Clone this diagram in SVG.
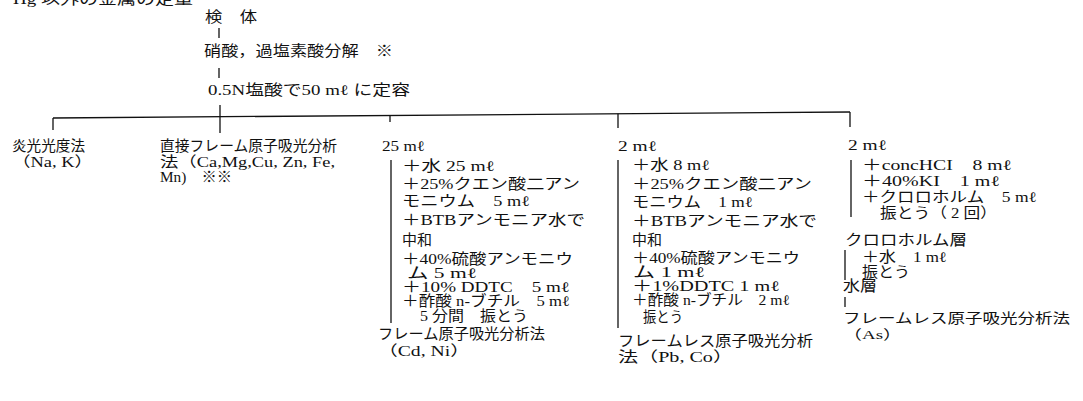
<svg xmlns="http://www.w3.org/2000/svg" width="1083" height="401" viewBox="0 0 1083 401">
<style>
text{font-family:"Liberation Serif","Noto Sans CJK JP",serif;font-size:14.5px;fill:#111}
line{stroke:#111;stroke-width:1.3;fill:none}
.s{font-size:13.5px}
</style>
<rect width="1083" height="401" fill="#fff"/>
<g id="title"><text x="13" y="4" textLength="180" lengthAdjust="spacingAndGlyphs">Hg 以外の金属の定量</text></g>
<g id="sample"><text x="205" y="22" textLength="52" lengthAdjust="spacingAndGlyphs">検　体</text></g>
<g id="digest"><text x="204" y="56" textLength="189" lengthAdjust="spacingAndGlyphs">硝酸，過塩素酸分解　※</text></g>
<g id="dilute"><text x="208" y="95" textLength="202" lengthAdjust="spacingAndGlyphs">0.5N塩酸で50 mℓ に定容</text></g>
<g id="flame-photometry">
<text x="12" y="151" textLength="73" lengthAdjust="spacingAndGlyphs">炎光光度法</text>
<text x="12" y="167" textLength="81" lengthAdjust="spacingAndGlyphs">（Na, K）</text>
</g>
<g id="direct-aas">
<text x="160" y="151" textLength="177" lengthAdjust="spacingAndGlyphs">直接フレーム原子吸光分析</text>
<text x="160" y="167" textLength="175" lengthAdjust="spacingAndGlyphs">法（Ca,Mg,Cu, Zn, Fe,</text>
<text x="160" y="182" textLength="72" lengthAdjust="spacingAndGlyphs">Mn)　※※</text>
</g>
<g id="cd-ni">
<text x="382" y="151" textLength="43" lengthAdjust="spacingAndGlyphs">25 mℓ</text>
<text x="402" y="171" textLength="93" lengthAdjust="spacingAndGlyphs">＋水 25 mℓ</text>
<text x="402" y="189" textLength="178" lengthAdjust="spacingAndGlyphs">＋25%クエン酸二アン</text>
<text x="402" y="206" textLength="128" lengthAdjust="spacingAndGlyphs">モニウム　5 mℓ</text>
<text x="402" y="225" textLength="183" lengthAdjust="spacingAndGlyphs">＋BTBアンモニア水で</text>
<text x="402" y="245" textLength="30" lengthAdjust="spacingAndGlyphs">中和</text>
<text x="402" y="264" textLength="171" lengthAdjust="spacingAndGlyphs">＋40%硫酸アンモニウ</text>
<text x="407" y="278" textLength="70" lengthAdjust="spacingAndGlyphs">ム 5 mℓ</text>
<text x="402" y="292" textLength="168" lengthAdjust="spacingAndGlyphs">＋10% DDTC　5 mℓ</text>
<text x="402" y="306" textLength="168" lengthAdjust="spacingAndGlyphs">＋酢酸 n-ブチル　5 mℓ</text>
<text x="420" y="321" textLength="108" lengthAdjust="spacingAndGlyphs">5 分間　振とう</text>
<text x="378" y="339" textLength="167" lengthAdjust="spacingAndGlyphs">フレーム原子吸光分析法</text>
<text x="378" y="356" textLength="92" lengthAdjust="spacingAndGlyphs">（Cd, Ni）</text>
</g>
<g id="pb-co">
<text x="618" y="151" textLength="39" lengthAdjust="spacingAndGlyphs">2 mℓ</text>
<text x="632" y="170" textLength="78" lengthAdjust="spacingAndGlyphs">＋水 8 mℓ</text>
<text x="632" y="189" textLength="180" lengthAdjust="spacingAndGlyphs">＋25%クエン酸二アン</text>
<text x="632" y="207" textLength="121" lengthAdjust="spacingAndGlyphs">モニウム　1 mℓ</text>
<text x="632" y="226" textLength="185" lengthAdjust="spacingAndGlyphs">＋BTBアンモニア水で</text>
<text x="632" y="245" textLength="30" lengthAdjust="spacingAndGlyphs">中和</text>
<text x="632" y="263" textLength="168" lengthAdjust="spacingAndGlyphs">＋40%硫酸アンモニウ</text>
<text x="633" y="277" textLength="72" lengthAdjust="spacingAndGlyphs">ム 1 mℓ</text>
<text x="632" y="291" textLength="148" lengthAdjust="spacingAndGlyphs">＋1%DDTC 1 mℓ</text>
<text x="632" y="305" textLength="158" lengthAdjust="spacingAndGlyphs">＋酢酸 n-ブチル　2 mℓ</text>
<text x="643" y="322" textLength="40" lengthAdjust="spacingAndGlyphs">振とう</text>
<text x="618" y="346" textLength="195" lengthAdjust="spacingAndGlyphs">フレームレス原子吸光分析</text>
<text x="618" y="362" textLength="115" lengthAdjust="spacingAndGlyphs">法（Pb, Co）</text>
</g>
<g id="as">
<text x="848" y="150" textLength="39" lengthAdjust="spacingAndGlyphs">2 mℓ</text>
<text x="862" y="170" textLength="150" lengthAdjust="spacingAndGlyphs">＋concHCI　8 mℓ</text>
<text x="862" y="186" textLength="138" lengthAdjust="spacingAndGlyphs">＋40%KI　1 mℓ</text>
<text x="862" y="202" textLength="175" lengthAdjust="spacingAndGlyphs">＋クロロホルム　5 mℓ</text>
<text x="880" y="218" textLength="117" lengthAdjust="spacingAndGlyphs">振とう（ 2 回）</text>
<text x="845" y="245" textLength="122" lengthAdjust="spacingAndGlyphs">クロロホルム層</text>
<text x="862" y="262" textLength="85" lengthAdjust="spacingAndGlyphs">＋水　1 mℓ</text>
<text x="862" y="277" textLength="48" lengthAdjust="spacingAndGlyphs">振とう</text>
<text x="843" y="291" textLength="34" lengthAdjust="spacingAndGlyphs">水層</text>
<text class="s" x="843" y="323" textLength="227" lengthAdjust="spacingAndGlyphs">フレームレス原子吸光分析法</text>
<text class="s" x="843" y="339" textLength="59" lengthAdjust="spacingAndGlyphs">（As）</text>
</g>
<g id="connectors">
<line x1="219" y1="28" x2="219" y2="38"/>
<line x1="219" y1="68" x2="219" y2="78"/>
<line x1="220" y1="105" x2="220" y2="133"/>
<line x1="53" y1="118" x2="850" y2="112"/>
<line x1="53" y1="118" x2="53" y2="130"/>
<line x1="390" y1="115.5" x2="390" y2="122"/>
<line x1="618" y1="113.7" x2="618" y2="128"/>
<line x1="850" y1="112" x2="850" y2="127"/>
<line x1="391" y1="160" x2="391" y2="323"/>
<line x1="618" y1="160" x2="618" y2="328"/>
<line x1="851" y1="160" x2="851" y2="217"/>
<line x1="845" y1="250" x2="845" y2="280"/>
<line x1="845" y1="297" x2="845" y2="307"/>
</g>
</svg>
